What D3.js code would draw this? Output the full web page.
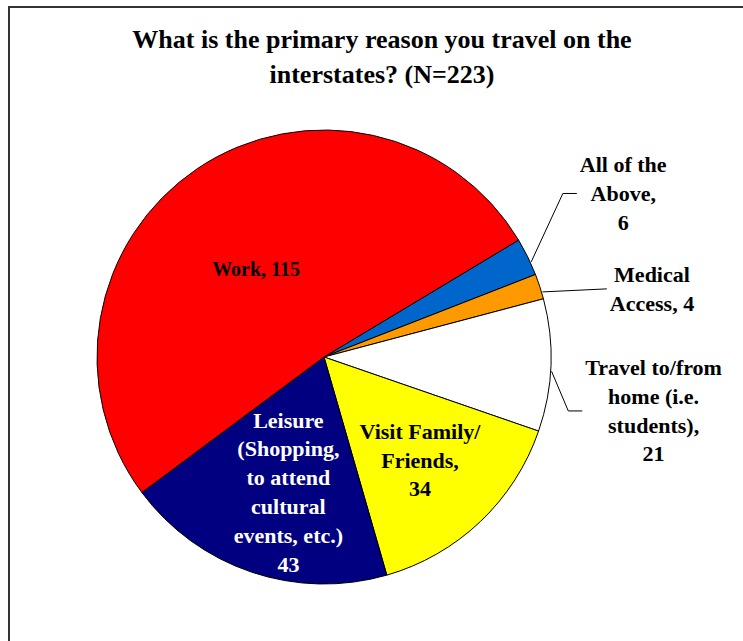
<!DOCTYPE html>
<html>
<head>
<meta charset="utf-8">
<script src="https://cdn.jsdelivr.net/npm/d3@7"></script>
<style>
  html, body { margin: 0; padding: 0; background: #fff; }
  svg { display: block; }
  text { font-family: "Liberation Serif", "Times New Roman", serif; font-weight: bold; }
</style>
</head>
<body>
<svg id="chart" width="743" height="641"></svg>
<script>
// ---- data ----
const titleLines = ["What is the primary reason you travel on the", "interstates? (N=223)"];
const categories = ["All of the Above", "Medical Access", "Travel to/from home (i.e. students)", "Visit Family/ Friends", "Leisure (Shopping, to attend cultural events, etc.)", "Work"];
const values = [6, 4, 21, 34, 43, 115];
const labelLines = [
  ["All of the", "Above,", "6"],
  ["Medical", "Access, 4"],
  ["Travel to/from", "home (i.e.", "students),", "21"],
  ["Visit Family/", "Friends,", "34"],
  ["Leisure", "(Shopping,", "to attend", "cultural", "events, etc.)", "43"],
  ["Work, 115"]
];
const colors = ["#0066CC", "#FF9900", "#FFFFFF", "#FFFF00", "#000080", "#FF0000"];
const labelColors = ["#000", "#000", "#000", "#000", "#fff", "#000"];

// ---- label placement (polar, relative to slice mid-angle) ----
const labelRadius = [341, 335, 334, 141, 140, 111];
const labelAngleShift = [-2.5, 6.35, 7.2, 0.6, -3.9, -3.9];
const labelOutside = [true, true, true, false, false, false];
const leaderElbow = [true, false, true, false, false, false];
const labelSize = [22, 22, 22, 22, 22, 20];

const svg = d3.select("#chart");
const cx = 324, cy = 357, R = 227;
const lineH = 28.8;

// frame
svg.append("path")
  .attr("d", "M9,641 V7 H743")
  .attr("fill", "none")
  .attr("stroke", "#333")
  .attr("stroke-width", 2);

// title
svg.append("text")
  .attr("x", 382)
  .attr("text-anchor", "middle")
  .attr("font-size", 26)
  .attr("fill", "#000")
  .selectAll("tspan")
  .data(titleLines)
  .join("tspan")
  .attr("x", 382)
  .attr("y", (d, i) => 48 + i * 35)
  .text(d => d);

const startAngle = 59 * Math.PI / 180;
const pie = d3.pie().sort(null).value(d => d)
  .startAngle(startAngle).endAngle(startAngle + 2 * Math.PI);
const arcs = pie(values);
const arc = d3.arc().innerRadius(0).outerRadius(R);

const g = svg.append("g").attr("transform", `translate(${cx},${cy})`);

g.selectAll("path.slice")
  .data(arcs)
  .join("path")
  .attr("class", "slice")
  .attr("d", arc)
  .attr("fill", (d, i) => colors[i])
  .attr("stroke", "#000")
  .attr("stroke-width", 1)
  .attr("stroke-linejoin", "round");

function polar(angle, r) {
  return [r * Math.sin(angle), -r * Math.cos(angle)];
}

arcs.forEach((a, i) => {
  const mid = (a.startAngle + a.endAngle) / 2;
  const la = mid + labelAngleShift[i] * Math.PI / 180;
  const [lx, ly] = polar(la, labelRadius[i]);
  const lines = labelLines[i];
  const n = lines.length;
  const capHalf = labelSize[i] * 0.33;
  const t = g.append("text")
    .attr("text-anchor", "middle")
    .attr("font-size", labelSize[i])
    .attr("fill", labelColors[i]);
  t.selectAll("tspan")
    .data(lines)
    .join("tspan")
    .attr("x", lx)
    .attr("y", (d, j) => ly + capHalf + (j - (n - 1) / 2) * lineH)
    .text(d => d);

  if (labelOutside[i]) {
    const bb = t.node().getBBox();
    const [sx, sy] = polar(mid + 1.5 * Math.PI / 180, R + 1);
    const ex = bb.x - 3, ey = ly;
    const pts = leaderElbow[i]
      ? [[sx, sy], [ex - 14, ey], [ex, ey]]
      : [[sx, sy], [ex, ey]];
    g.append("path")
      .attr("d", d3.line()(pts))
      .attr("fill", "none")
      .attr("stroke", "#000")
      .attr("stroke-width", 1);
  }
});
</script>
</body>
</html>
